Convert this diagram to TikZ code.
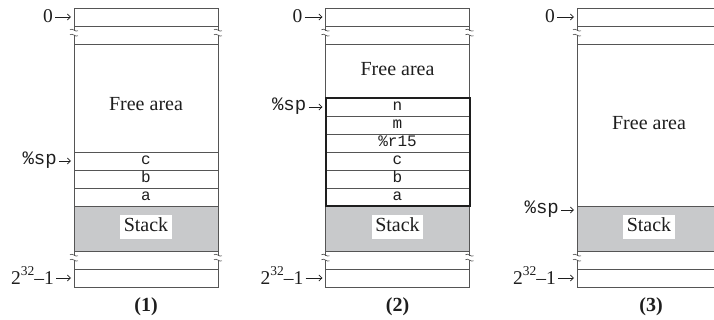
\documentclass[tikz,border=0pt]{standalone}
\usepackage{fontspec}
\setmainfont{Liberation Serif}
\setmonofont{Liberation Mono}
\usetikzlibrary{arrows.meta}
\definecolor{lc}{HTML}{555555}
\definecolor{lcd}{HTML}{1E1E1E}
\definecolor{stk}{HTML}{C8C9CB}
\definecolor{tc}{HTML}{1E1E1E}
\newcommand\mybrk[2]{%
  \begin{scope}[shift={(#1,#2)}]
    \fill[white] (-1.6,-2.2) rectangle (1.6,2.2);
    \draw[lc, line width=0.65pt] (-4,-3.2) .. controls (-1.5,-5.5) and (1.5,-0.5) .. (4,-2.2);
    \draw[lc, line width=0.65pt] (-4,1.8) .. controls (-1.5,-0.5) and (1.5,4.5) .. (4,2.8);
  \end{scope}}
\newcommand\twopow{2\raisebox{0.42em}{\fontsize{13.5}{14}\selectfont 32}–1}
\begin{document}
\begin{tikzpicture}[x=1pt,y=-1pt,
  cell/.style={draw=lc, line width=0.8pt, minimum width=144pt, minimum height=18pt,
    inner sep=0pt, outer sep=0pt, anchor=north west,
    font=\ttfamily\fontsize{16}{18}\selectfont, text height=11pt, text depth=3.5pt, text=tc},
  stackcell/.style={cell, fill=stk, minimum height=45pt},
  serif/.style={font=\fontsize{20}{24}\selectfont, text=tc, inner sep=0pt},
  stacklbl/.style={font=\fontsize{20}{24}\selectfont, text=tc, fill=white,
    inner xsep=3.5pt, inner ysep=3pt, text height=14pt, text depth=4pt},
  lbl/.style={anchor=east, inner sep=0pt, font=\fontsize{19.5}{22}\selectfont, text=tc,
    text height=15pt, text depth=3pt},
  splbl/.style={anchor=east, inner sep=0pt, font=\ttfamily\fontsize{19}{22}\selectfont, text=tc,
    text height=11pt, text depth=3pt},
  captxt/.style={font=\bfseries\fontsize{20}{22}\selectfont, text=tc, inner sep=0pt},
  arr/.style={draw=tc, line width=0.7pt, -{Straight Barb[length=3.2pt,width=6pt]},
    shorten <=2pt, shorten >=3pt},
  thickbox/.style={draw=lcd, line width=2pt}
]
\useasboundingbox (0,0) rectangle (714,320);

% ---------------- Panel 1 ----------------
\node[cell] (top1) at (74,8) {};
\node[cell] (g1a) at (74,26) {};
\node[cell, minimum height=108pt] (free1) at (74,44) {};
\node[cell] (c1) at (74,152) {c};
\node[cell] (b1) at (74,170) {b};
\node[cell] (a1) at (74,188) {a};
\node[stackcell] (st1) at (74,206) {};
\node[cell] (g1b) at (74,251) {};
\node[cell] (bot1) at (74,269) {};
\node[serif] (fa1) at (146,104) {Free area};
\node[stacklbl] (sl1) at (146,227) {Stack};
\mybrk{74}{33} \mybrk{218}{33} \mybrk{74}{258} \mybrk{218}{258}
\node[lbl] (z1) at (53,17) {0};
\node[splbl] (sp1) at (57,161) {\%sp};
\node[lbl] (m1) at (54,278) {\twopow};
\draw[arr] (z1.east) -- (z1.east -| top1.west);
\draw[arr] (sp1.east) -- (sp1.east -| c1.west);
\draw[arr] (m1.east) -- (m1.east -| bot1.west);
\node[captxt] (cap1) at (146,307) {(1)};

% ---------------- Panel 2 ----------------
\begin{scope}[xshift=251.5pt]
\node[cell] (top2) at (74,8) {};
\node[cell] (g2a) at (74,26) {};
\node[cell, minimum height=54pt] (free2) at (74,44) {};
\node[cell] (n2) at (74,98) {n};
\node[cell] (mm2) at (74,116) {m};
\node[cell] (r2) at (74,134) {\%r15};
\node[cell] (c2) at (74,152) {c};
\node[cell] (b2) at (74,170) {b};
\node[cell] (a2) at (74,188) {a};
\node[stackcell] (st2) at (74,206) {};
\node[cell] (g2b) at (74,251) {};
\node[cell] (bot2) at (74,269) {};
\draw[thickbox] (n2.north west) rectangle (a2.south east);
\node[serif] (fa2) at (146,69) {Free area};
\node[stacklbl] (sl2) at (146,227) {Stack};
\mybrk{74}{33} \mybrk{218}{33} \mybrk{74}{258} \mybrk{218}{258}
\node[lbl] (z2) at (51,17) {0};
\node[splbl] (sp2) at (55,107) {\%sp};
\node[lbl] (m2) at (52,278) {\twopow};
\draw[arr] (z2.east) -- (z2.east -| top2.west);
\draw[arr] (sp2.east) -- (sp2.east -| n2.west);
\draw[arr] (m2.east) -- (m2.east -| bot2.west);
\node[captxt] (cap2) at (146,307) {(2)};
\end{scope}

% ---------------- Panel 3 ----------------
\begin{scope}[xshift=503pt]
\node[cell] (top3) at (74,8) {};
\node[cell] (g3a) at (74,26) {};
\node[cell, minimum height=162pt] (free3) at (74,44) {};
\node[stackcell] (st3) at (74,206) {};
\node[cell] (g3b) at (74,251) {};
\node[cell] (bot3) at (74,269) {};
\node[serif] (fa3) at (146,123) {Free area};
\node[stacklbl] (sl3) at (146,227) {Stack};
\mybrk{74}{33} \mybrk{218}{33} \mybrk{74}{258} \mybrk{218}{258}
\node[lbl] (z3) at (52,17) {0};
\node[splbl] (sp3) at (56,210) {\%sp};
\node[lbl] (m3) at (53,278) {\twopow};
\draw[arr] (z3.east) -- (z3.east -| top3.west);
\draw[arr] (sp3.east) -- (sp3.east -| st3.west);
\draw[arr] (m3.east) -- (m3.east -| bot3.west);
\node[captxt] (cap3) at (148,307) {(3)};
\end{scope}
\end{tikzpicture}
\end{document}
